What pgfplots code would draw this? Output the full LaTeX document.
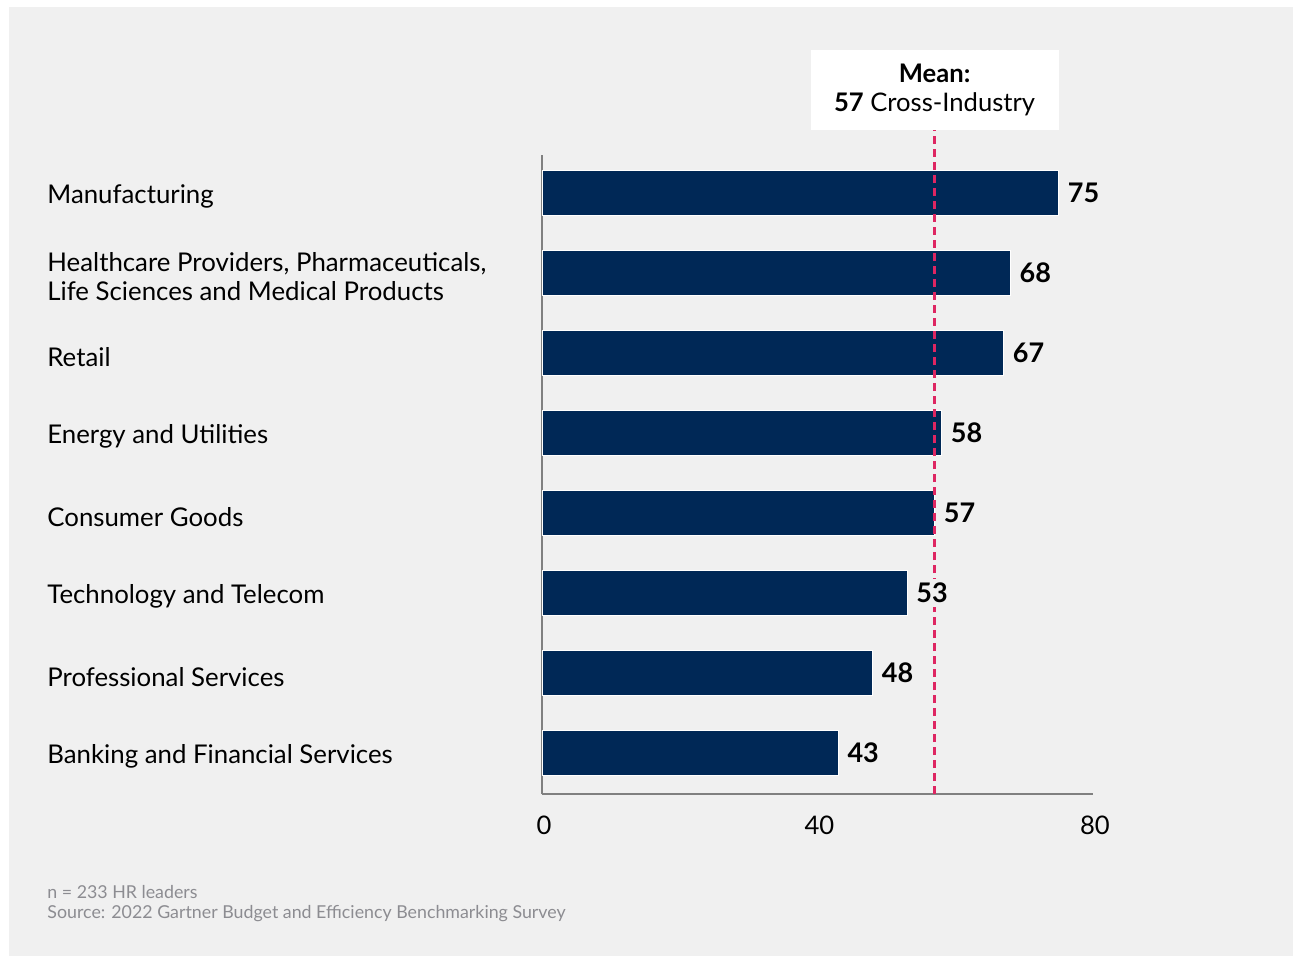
\documentclass[border=0pt]{standalone}
\usepackage{pgfplots}
\pgfplotsset{compat=1.18}
\usepackage{fontspec}
\setmainfont{Lato}
\definecolor{bgc}{RGB}{240,240,240}
\definecolor{navy}{RGB}{0,40,86}
\definecolor{crim}{RGB}{222,38,98}
\definecolor{axg}{RGB}{128,128,128}
\definecolor{foot}{RGB}{140,140,145}
\begin{document}
\begin{tikzpicture}
\fill[white] (0pt,0pt) rectangle (646.5pt,-478pt);
\fill[bgc] (4.5pt,-3.5pt) rectangle (646.5pt,-478pt);
\begin{axis}[
  at={(271pt,-397pt)}, anchor=south west,
  scale only axis, width=275.5pt, height=319.5pt,
  xmin=0, xmax=80, ymin=-0.5125, ymax=7.475,
  bar width=22.5pt,
  separate axis lines,
  axis x line*=bottom, axis y line*=left,
  axis line style={-, draw=axg, line width=0.7pt},
  xtick={0,40,80}, ytick={0,...,7},
  major tick length=0pt,
  /pgf/number format/assume math mode=true,
  xticklabel style={font=\fontsize{12.8}{14.5}\selectfont, yshift=-7.5pt, xshift=1pt},
  yticklabels={Banking and Financial Services, Professional Services, Technology and Telecom, Consumer Goods, Energy and Utilities, Retail, {Healthcare Providers, Pharmaceuticals,\\Life Sciences and Medical Products}, Manufacturing},
  yticklabel style={anchor=west, align=left, inner sep=0pt, xshift=-247.5pt, yshift=-1.8pt, font=\fontsize{12.9}{14.5}\selectfont},
  clip=false,
]
\addplot[xbar, fill=navy, draw=white, line width=0.5pt]
  coordinates {(43,0) (48,1) (53,2) (57,3) (58,4) (67,5) (68,6) (75,7)};
\addplot[crim, dash pattern=on 4pt off 2.5pt, line width=1.2pt] coordinates {(57,-0.5125) (57,7.79)};
\addplot[draw=none, mark=none, point meta=x, nodes near coords,
  nodes near coords style={anchor=west, xshift=2.5pt, fill=bgc, inner sep=2pt, font=\fontsize{13.5}{14}\selectfont\bfseries, text=black}]
  coordinates {(43,0) (48,1) (53,2) (57,3) (58,4) (67,5) (68,6) (75,7)};
\node[fill=white, minimum width=124pt, minimum height=40pt, align=center, inner sep=0pt, font=\fontsize{12.8}{14.5}\selectfont] at (axis cs:57,8.2875) {\textbf{Mean:}\\\textbf{57} Cross-Industry};
\end{axis}
\node[anchor=base west, inner sep=0pt, text=foot, font=\fontsize{8.9}{10}\selectfont] at (23.5pt,-449pt) {n = 233 HR leaders};
\node[anchor=base west, inner sep=0pt, text=foot, font=\fontsize{8.9}{10}\selectfont] at (23.5pt,-459pt) {Source: 2022 Gartner Budget and Efficiency Benchmarking Survey};
\end{tikzpicture}
\end{document}
